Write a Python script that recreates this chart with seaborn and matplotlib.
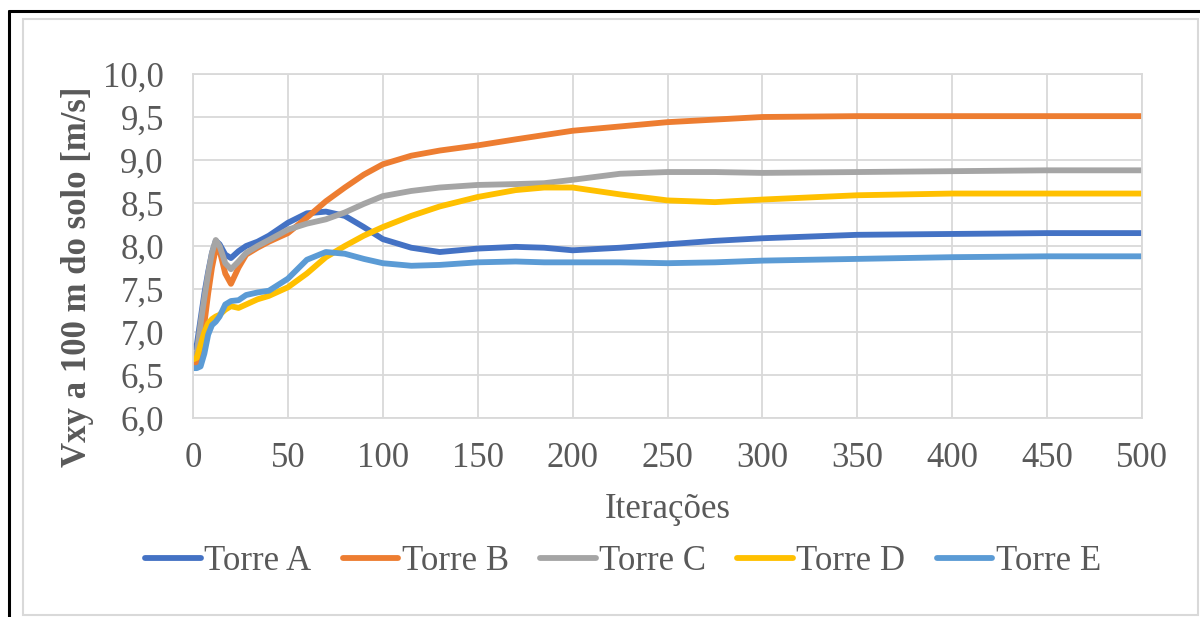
import matplotlib
matplotlib.use("Agg")
import matplotlib.pyplot as plt
from matplotlib.patches import Rectangle
import pandas as pd
import seaborn as sns

# Iteration steps at which the tower speeds are sampled
iteracoes = [0, 2, 4, 6, 8, 10, 12, 14, 17, 20, 24, 28, 34, 40, 50, 60, 70, 80, 90,
             100, 115, 130, 150, 170, 185, 200, 225, 250, 275, 300, 350, 400, 450, 500]

torre_a = [6.82, 6.85, 7.15, 7.45, 7.70, 7.92, 8.06, 8.02, 7.90, 7.86, 7.94, 8.00,
           8.05, 8.12, 8.27, 8.38, 8.40, 8.35, 8.22, 8.08, 7.98, 7.93, 7.97, 7.99,
           7.98, 7.95, 7.98, 8.02, 8.06, 8.09, 8.13, 8.14, 8.15, 8.15]
torre_b = [6.62, 6.63, 6.75, 7.10, 7.45, 7.75, 7.97, 7.95, 7.68, 7.56, 7.75, 7.90,
           7.98, 8.05, 8.15, 8.33, 8.52, 8.68, 8.83, 8.95, 9.05, 9.11, 9.17, 9.24,
           9.29, 9.34, 9.39, 9.44, 9.47, 9.50, 9.51, 9.51, 9.51, 9.51]
torre_c = [6.73, 6.76, 7.10, 7.40, 7.68, 7.92, 8.07, 8.00, 7.80, 7.73, 7.82, 7.92,
           8.00, 8.07, 8.19, 8.26, 8.31, 8.39, 8.49, 8.58, 8.64, 8.68, 8.71, 8.72,
           8.73, 8.77, 8.84, 8.86, 8.86, 8.85, 8.86, 8.87, 8.88, 8.88]
torre_d = [6.68, 6.70, 6.85, 7.00, 7.10, 7.15, 7.18, 7.20, 7.26, 7.30, 7.28, 7.32,
           7.38, 7.42, 7.52, 7.68, 7.87, 8.00, 8.12, 8.22, 8.35, 8.46, 8.57, 8.65,
           8.68, 8.68, 8.60, 8.53, 8.51, 8.54, 8.59, 8.61, 8.61, 8.61]
torre_e = [6.58, 6.58, 6.60, 6.75, 6.97, 7.08, 7.12, 7.18, 7.32, 7.36, 7.37, 7.43,
           7.46, 7.48, 7.62, 7.84, 7.93, 7.91, 7.85, 7.80, 7.77, 7.78, 7.81, 7.82,
           7.81, 7.81, 7.81, 7.80, 7.81, 7.83, 7.85, 7.87, 7.88, 7.88]

nomes = ["Torre A", "Torre B", "Torre C", "Torre D", "Torre E"]
cores = ["#4472C4", "#ED7D31", "#A5A5A5", "#FFC000", "#5B9BD5"]

y_ticks = [6.0, 6.5, 7.0, 7.5, 8.0, 8.5, 9.0, 9.5, 10.0]
x_ticks = [0, 50, 100, 150, 200, 250, 300, 350, 400, 450, 500]

series = [torre_a, torre_b, torre_c, torre_d, torre_e]
df = pd.concat(
    [pd.DataFrame({"Iterações": iteracoes, "Vxy": vals, "Torre": nome})
     for nome, vals in zip(nomes, series)],
    ignore_index=True,
)

sns.set_style("white")
plt.rcParams["font.family"] = ["Liberation Serif", "DejaVu Serif"]
texto = "#595959"
fs = 25

fig = plt.figure(figsize=(12, 6.17), dpi=100)
ax = fig.add_axes([193 / 1200, 1 - 418 / 617, (1142 - 193) / 1200, (418 - 74) / 617])

sns.lineplot(data=df, x="Iterações", y="Vxy", hue="Torre", palette=cores,
             hue_order=nomes, linewidth=4.2, ax=ax, legend=False)

ax.set_xlim(0, 500)
ax.set_ylim(6.0, 10.0)
ax.set_xticks(x_ticks)
ax.set_yticks(y_ticks)
ax.set_yticklabels([f"{v:.1f}".replace(".", ",") for v in y_ticks])
ax.tick_params(axis="both", labelsize=fs, colors=texto, length=0)
ax.tick_params(axis="y", pad=21)
ax.tick_params(axis="x", pad=17)
ax.grid(True, color="#D9D9D9", linewidth=1.3)
for s in ax.spines.values():
    s.set_color("#D9D9D9")
    s.set_linewidth(1.3)
ax.set_axisbelow(True)

ax.set_xlabel("Iterações", fontsize=fs, color=texto)
ax.xaxis.label.set_va("center")
ax.xaxis.set_label_coords(0.5, (418 - 510) / 344)
ax.set_ylabel("Vxy a 100 m do solo [m/s]", fontsize=fs, color=texto,
              fontweight="bold")
ax.yaxis.label.set_va("center")
ax.yaxis.set_label_coords((78 - 193) / 949, (418 - 277) / 344)

handles = [plt.Line2D([], [], color=c, linewidth=4.2) for c in cores]
fig.legend(handles, nomes, loc="center", bbox_to_anchor=(623 / 1200, 1 - 562 / 617),
           ncol=5, frameon=False, fontsize=fs, handlelength=1.6,
           handletextpad=0.1, columnspacing=0.9, labelcolor=texto)

# Outer frame lines and inner chart border
fig.add_artist(Rectangle((23 / 1200, 1 - 615 / 617), (1198 - 23) / 1200,
                         (615 - 19) / 617, transform=fig.transFigure,
                         fill=False, edgecolor="#D9D9D9", linewidth=1.5))
fig.add_artist(plt.Line2D([9 / 1200, 9 / 1200], [0, 1 - 11 / 617],
                          transform=fig.transFigure, color="black", linewidth=2.2))
fig.add_artist(plt.Line2D([9 / 1200, 1], [1 - 11 / 617, 1 - 11 / 617],
                          transform=fig.transFigure, color="black", linewidth=2.2))

fig.savefig("out.png", dpi=100, facecolor="white")
